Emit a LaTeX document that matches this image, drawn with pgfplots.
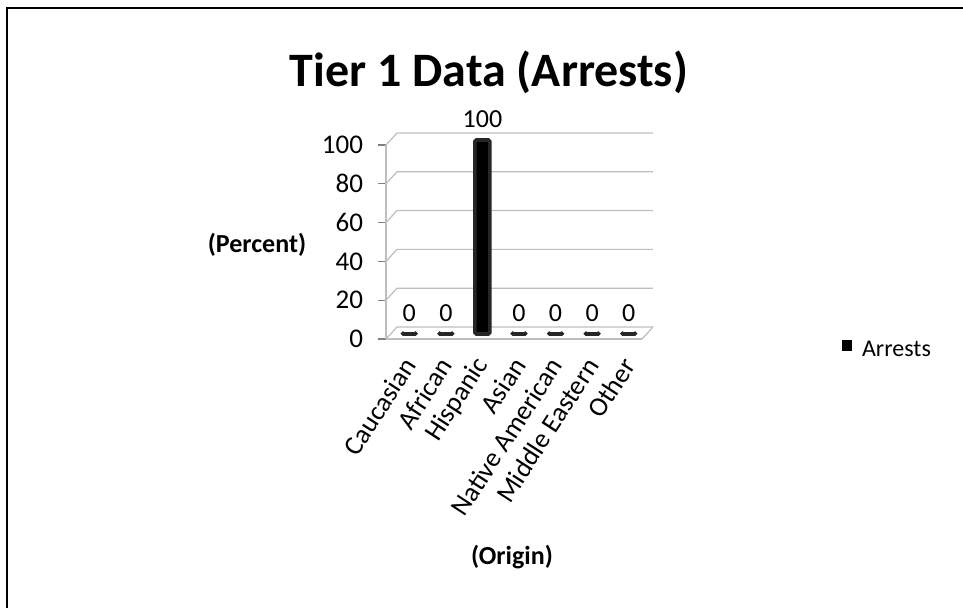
\documentclass[border=0pt]{standalone}
\usepackage{pgfplots}
\pgfplotsset{compat=1.18}
\usepackage{fontspec}
\setmainfont{Carlito}

\definecolor{gridgray}{RGB}{190,190,190}

\begin{document}
\begin{tikzpicture}
    % page is 963x608 px, 1px = 0.5pt
    \path[use as bounding box] (0,0) rectangle (481.5pt,304pt);
    \draw[line width=1pt] (3.5pt,0) -- (3.5pt,300pt) -- (481.5pt,300pt);

    \node[font=\fontsize{24}{28}\selectfont\bfseries] at (244.5pt,268pt) {Tier 1 Data (Arrests)};
    \node[font=\fontsize{13}{15}\selectfont\bfseries] at (128.5pt,181.5pt) {(Percent)};
    \node[font=\fontsize{13}{15}\selectfont\bfseries] at (256pt,25.5pt) {(Origin)};

    \begin{axis}[
        at={(193pt,134.5pt)}, anchor=south west,
        scale only axis, width=128pt, height=97pt,
        xmin=-0.5, xmax=6.5, ymin=0, ymax=100,
        axis x line*=bottom, axis y line*=left,
        axis line style={gridgray, line width=0.6pt},
        xtick={0,1,2,3,4,5,6},
        xticklabels={Caucasian,African,Hispanic,Asian,Native American,Middle Eastern,Other},
        xtick style={draw=none},
        ytick={0,20,40,60,80,100},
        ytick style={gray, line width=0.6pt},
        tick align=outside, major tick length=4pt,
        /pgf/number format/assume math mode=true,
        yticklabel style={font=\fontsize{13.5}{15}\selectfont, xshift=-4pt},
        xticklabel style={font=\fontsize{13.5}{15}\selectfont, xshift=4.5pt, yshift=-4pt,
            rotate=57, anchor=east},
        legend style={at={(1.755,-0.06)}, anchor=west, draw=none, fill=none,
            font=\fontsize{12}{14}\selectfont, nodes={inner xsep=5pt}},
        legend image code/.code={\fill[black, draw=none, sharp corners] (0pt,-2.6pt) rectangle (5.2pt,2.6pt);},
        clip=false,
    ]
    % back wall and floor of the 3-D look
    \pgfplotsinvokeforeach{0,20,40,60,80,100}{
        \draw[gridgray, line width=0.6pt] (axis cs:-0.5,#1) -- ([xshift=5.5pt,yshift=6pt]axis cs:-0.5,#1)
            -- ([xshift=5.5pt,yshift=6pt]axis cs:6.5,#1);
    }
    \draw[gridgray, line width=0.6pt] (axis cs:6.5,0) -- ([xshift=5.5pt,yshift=6pt]axis cs:6.5,0);

    \addplot[ybar, bar width=7.5pt, fill=black, draw=black!85, line width=1.8pt,
        rounded corners=0.8pt, xshift=2.5pt, yshift=2.5pt,
        nodes near coords,
        every node near coord/.append style={font=\fontsize{13}{15}\selectfont, black, yshift=2pt}]
    coordinates {(0,0) (1,0) (2,100) (3,0) (4,0) (5,0) (6,0)};
    \addlegendentry{Arrests}
    \end{axis}
\end{tikzpicture}
\end{document}
